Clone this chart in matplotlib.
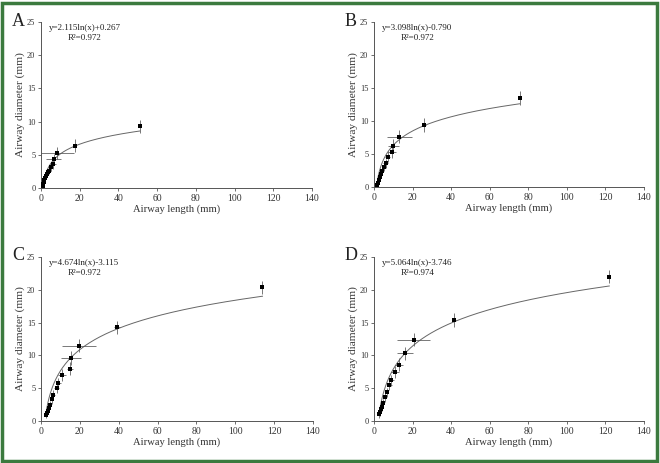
import numpy as np
import matplotlib
matplotlib.use("Agg")
import matplotlib.pyplot as plt
from matplotlib.patches import Rectangle

plt.rcParams['font.family'] = ['Liberation Serif', 'DejaVu Serif']

# ---- data ----
A_x = [0.8, 1.0, 1.3, 1.6, 2.0, 2.4, 2.9, 3.4, 4.0, 5.0, 6.3, 6.5, 8.5, 17.5, 51.0]
A_y = [0.3, 0.6, 0.9, 1.2, 1.5, 1.8, 2.1, 2.4, 2.6, 3.1, 3.6, 4.3, 5.2, 6.4, 9.3]
A_xerr = [0.3, 0.3, 0.4, 0.4, 0.5, 0.6, 0.7, 0.8, 1.0, 1.2, 1.5, 4.0, 8.5, 0.8, 0.5]
A_yerr = [0.3, 0.3, 0.3, 0.4, 0.4, 0.4, 0.5, 0.5, 0.5, 0.6, 0.7, 0.8, 0.9, 1.0, 1.0]
A_coef = (2.115, 0.267)
A_eq = "y=2.115ln(x)+0.267"
A_r2 = "0.972"

B_x = [1.8, 2.0, 2.5, 3.0, 3.5, 4.0, 5.0, 6.0, 7.0, 9.5, 10.0, 13.0, 26.0, 75.5]
B_y = [0.3, 0.6, 1.0, 1.5, 2.0, 2.5, 3.0, 3.6, 4.6, 5.3, 6.2, 7.6, 9.4, 13.5]
B_xerr = [0.3, 0.4, 0.5, 0.6, 0.7, 0.8, 1.0, 1.2, 1.5, 2.0, 3.0, 6.5, 1.0, 0.5]
B_yerr = [0.3, 0.3, 0.4, 0.4, 0.5, 0.5, 0.6, 0.7, 0.8, 0.9, 1.0, 1.0, 1.0, 1.0]
B_coef = (3.098, -0.790)
B_eq = "y=3.098ln(x)-0.790"
B_r2 = "0.972"

C_x = [2.8, 3.0, 3.5, 4.0, 4.5, 5.5, 6.0, 8.0, 9.0, 11.0, 15.0, 15.5, 19.5, 39.0, 114.0]
C_y = [0.9, 1.2, 1.6, 2.0, 2.5, 3.3, 4.0, 5.0, 5.8, 7.0, 8.0, 9.6, 11.5, 14.3, 20.4]
C_xerr = [0.4, 0.5, 0.5, 0.6, 0.7, 0.9, 1.0, 1.2, 1.4, 2.0, 1.5, 5.2, 8.7, 1.5, 0.5]
C_yerr = [0.4, 0.4, 0.5, 0.5, 0.6, 0.7, 0.7, 0.8, 0.8, 0.9, 1.0, 1.0, 1.0, 1.0, 1.0]
C_coef = (4.674, -3.115)
C_eq = "y=4.674ln(x)-3.115"
C_r2 = "0.972"

D_x = [2.8, 3.0, 3.5, 4.0, 4.5, 5.5, 6.5, 8.0, 9.0, 11.0, 13.0, 16.0, 20.5, 41.5, 122.0]
D_y = [1.0, 1.3, 1.8, 2.2, 2.8, 3.6, 4.4, 5.5, 6.2, 7.5, 8.6, 10.3, 12.4, 15.4, 22.0]
D_xerr = [0.4, 0.5, 0.5, 0.6, 0.7, 0.9, 1.0, 1.2, 1.4, 2.0, 2.0, 4.3, 8.6, 1.0, 0.5]
D_yerr = [0.5, 0.5, 0.5, 0.6, 0.6, 0.7, 0.7, 0.8, 0.8, 0.9, 1.0, 1.0, 1.0, 1.0, 1.0]
D_coef = (5.064, -3.746)
D_eq = "y=5.064ln(x)-3.746"
D_r2 = "0.974"

x_ticks = [0, 20, 40, 60, 80, 100, 120, 140]
y_ticks = [0, 5, 10, 15, 20, 25]
panel_labels = ["A", "B", "C", "D"]
xlabel = "Airway length (mm)"
ylabel = "Airway diameter (mm)"

panels = [
    (A_x, A_y, A_xerr, A_yerr, A_coef, A_eq, A_r2),
    (B_x, B_y, B_xerr, B_yerr, B_coef, B_eq, B_r2),
    (C_x, C_y, C_xerr, C_yerr, C_coef, C_eq, C_r2),
    (D_x, D_y, D_xerr, D_yerr, D_coef, D_eq, D_r2),
]

W, H = 660, 463
fig = plt.figure(figsize=(W / 100, H / 100), dpi=100)

# axes boxes in pixels: left, right, top, bottom
boxes = [
    (41, 312, 22, 188),
    (374, 644, 22, 187),
    (41, 313, 257, 421),
    (374, 644, 257, 421),
]

for (px, py, pxe, pye, coef, eq, r2), (l, r, t, b), lab in zip(panels, boxes, panel_labels):
    ax = fig.add_axes([l / W, 1 - b / H, (r - l) / W, (b - t) / H])
    ax.errorbar(px, py, xerr=pxe, yerr=pye, fmt='s', ms=2.6, mew=0, color='black',
                ecolor='#555555', elinewidth=0.55, capsize=1.0, capthick=0.55, zorder=3)
    xx = np.linspace(min(px), max(px), 300)
    ax.plot(xx, coef[0] * np.log(xx) + coef[1], color='#666666', lw=0.7, zorder=2)
    ax.set_xlim(0, 140)
    ax.set_ylim(0, 25)
    ax.set_xticks(x_ticks)
    ax.set_yticks(y_ticks)
    for s in ['top', 'right']:
        ax.spines[s].set_visible(False)
    for s in ['left', 'bottom']:
        ax.spines[s].set_color('#555555')
        ax.spines[s].set_linewidth(0.7)
    ax.tick_params(axis='x', labelsize=7, length=2.5, width=0.6, color='#555555',
                   labelcolor='#333333', pad=1.5)
    ax.tick_params(axis='y', labelsize=6, length=2.5, width=0.6, color='#555555',
                   labelcolor='#333333', pad=1.5)
    ax.set_xlabel(xlabel, fontsize=7.6, color='#333333', labelpad=1.5)
    ax.set_ylabel(ylabel, fontsize=8.2, color='#333333')
    ax.yaxis.set_label_coords(-0.06, 0.5)
    ax.text(0.03, 0.985, eq, transform=ax.transAxes, fontsize=6.5, color='#222222',
            va='top', ha='left')
    ax.text(0.10, 0.925, "R\u00b2=" + r2, transform=ax.transAxes, fontsize=6.5,
            color='#222222', va='top', ha='left')
    fig.text((l - 29) / W, 1 - (t - 1) / H, lab, fontsize=13, va='center', ha='left',
             color='#222222')

fig.patches.append(Rectangle((2 / W, 2 / H), (W - 5) / W, (H - 5) / H,
                             transform=fig.transFigure, fill=False,
                             edgecolor='#3b7a3e', linewidth=2.5))

fig.savefig("out.png", dpi=100)
